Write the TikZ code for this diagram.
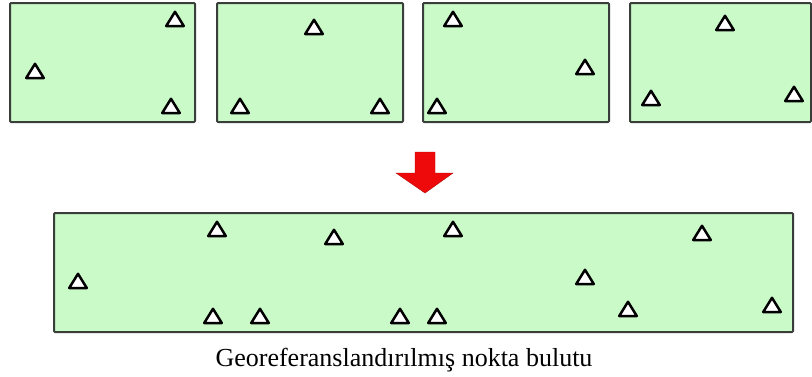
\documentclass[tikz,border=0pt]{standalone}
\usepackage{fontspec}
\setmainfont{Liberation Serif}
\definecolor{panelfill}{RGB}{202,250,200}
\definecolor{panelline}{RGB}{58,62,58}
\definecolor{arrowred}{RGB}{238,10,10}
\begin{document}
\begin{tikzpicture}[x=1pt,y=-1pt,
  panel/.style={draw=panelline,fill=panelfill,line width=2pt,rounded corners=1pt},
  tri/.pic={\draw[line width=2.5pt,fill=white,line join=round]
      (-8.8,7)--(8.8,7)--(0,-7.2)--cycle;},
  caption/.style={font=\fontsize{26}{31}\selectfont,anchor=base,inner sep=0pt}]
\useasboundingbox (0,0) rectangle (812,376);
% four separate scans
\draw[panel] (10,3) rectangle (195,122) coordinate (s1);
\draw[panel] (217,3) rectangle (403,122) coordinate (s2);
\draw[panel] (423,3) rectangle (609,122) coordinate (s3);
\draw[panel] (630,3) rectangle (811,122) coordinate (s4);
% control points in each scan
\foreach \x/\y in {175/19,35/71,171/106,
                   314/27,240/106,380/106,
                   453/19,585/67,437/106,
                   725/23,651/98,794/94}
  \pic at (\x,\y) {tri};
% merge arrow
\fill[arrowred,draw=arrowred!75!black,line width=0.4pt]
  (415,152)--(435,152)--(435,173)--(453,173)--(425,193)--(396,173)--(415,173)--cycle;
% merged, georeferenced cloud
\draw[panel] (54,213) rectangle (793,332) coordinate (m);
\foreach \x/\y in {78/281,217/229,334/237,453/229,702/233,
                   585/277,628/309,772/305,
                   213/316,260/316,400/316,437/316}
  \pic at (\x,\y) {tri};
\node[caption] (cap) at (404,366) {Georeferanslandırılmış nokta bulutu};
\end{tikzpicture}
\end{document}
